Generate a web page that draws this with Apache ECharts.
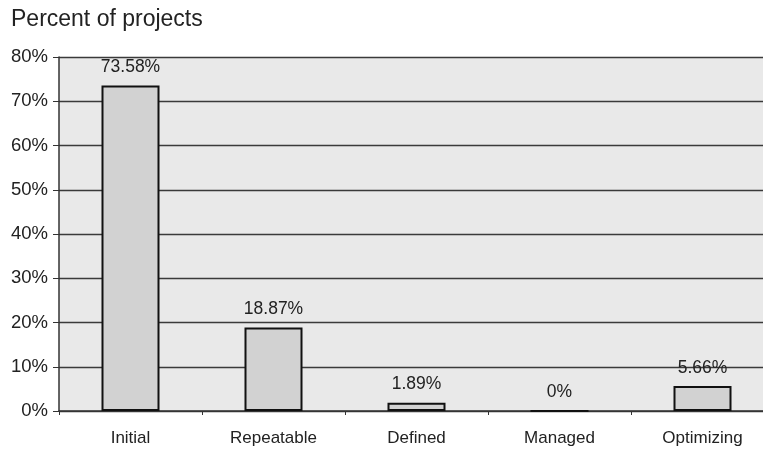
<!DOCTYPE html>
<html>
<head>
<meta charset="utf-8">
<script src="https://cdn.jsdelivr.net/npm/echarts@6/dist/echarts.min.js"></script>
<style>
  html, body { margin: 0; padding: 0; background: #fff; overflow: hidden; }
  /* the plot runs slightly past the right edge of the window */
  #chart { width: 774px; height: 452px; }
</style>
</head>
<body>
<div id="chart"></div>
<script>
// Maturity levels and the share of projects at each level
const categories = ['Initial', 'Repeatable', 'Defined', 'Managed', 'Optimizing'];
const percentValues = [73.58, 18.87, 1.89, 0, 5.66];
const yTicks = [0, 10, 20, 30, 40, 50, 60, 70, 80];

const FONT = 'Liberation Sans, Arial, Helvetica, sans-serif';
const chart = echarts.init(document.getElementById('chart'), null, { renderer: 'canvas' });

chart.setOption({
  animation: false,
  backgroundColor: '#ffffff',
  title: {
    text: 'Percent of projects',
    left: 6,
    top: 3,
    textStyle: { fontFamily: FONT, fontSize: 23, fontWeight: 'normal', color: '#222' }
  },
  grid: {
    left: 59,
    right: 0,
    top: 57,
    bottom: 41,
    show: true,
    backgroundColor: '#e9e9e9',
    borderWidth: 0
  },
  xAxis: {
    type: 'category',
    data: categories,
    axisLine: { show: true, lineStyle: { color: '#333', width: 1.5 } },
    axisTick: { show: true, length: 4, lineStyle: { color: '#333' } },
    axisLabel: { margin: 19, fontFamily: FONT, fontSize: 17, color: '#222' }
  },
  yAxis: {
    type: 'value',
    min: yTicks[0],
    max: yTicks[yTicks.length - 1],
    interval: 10,
    axisLine: { show: true, lineStyle: { color: '#333', width: 1.5 } },
    axisTick: { show: true, length: 6, lineStyle: { color: '#333' } },
    axisLabel: { margin: 11, formatter: '{value}%', fontFamily: FONT, fontSize: 18.5, color: '#222' },
    splitLine: { show: true, lineStyle: { color: '#3a3a3a', width: 1.3 } }
  },
  series: [{
    type: 'bar',
    data: percentValues,
    barWidth: 58,
    itemStyle: { color: '#d2d2d2', borderColor: '#111', borderWidth: 2 },
    label: {
      show: true,
      position: 'top',
      distance: 9,
      formatter: p => p.value + '%',
      fontFamily: FONT,
      fontSize: 17.5,
      color: '#222'
    }
  }]
});
</script>
</body>
</html>
